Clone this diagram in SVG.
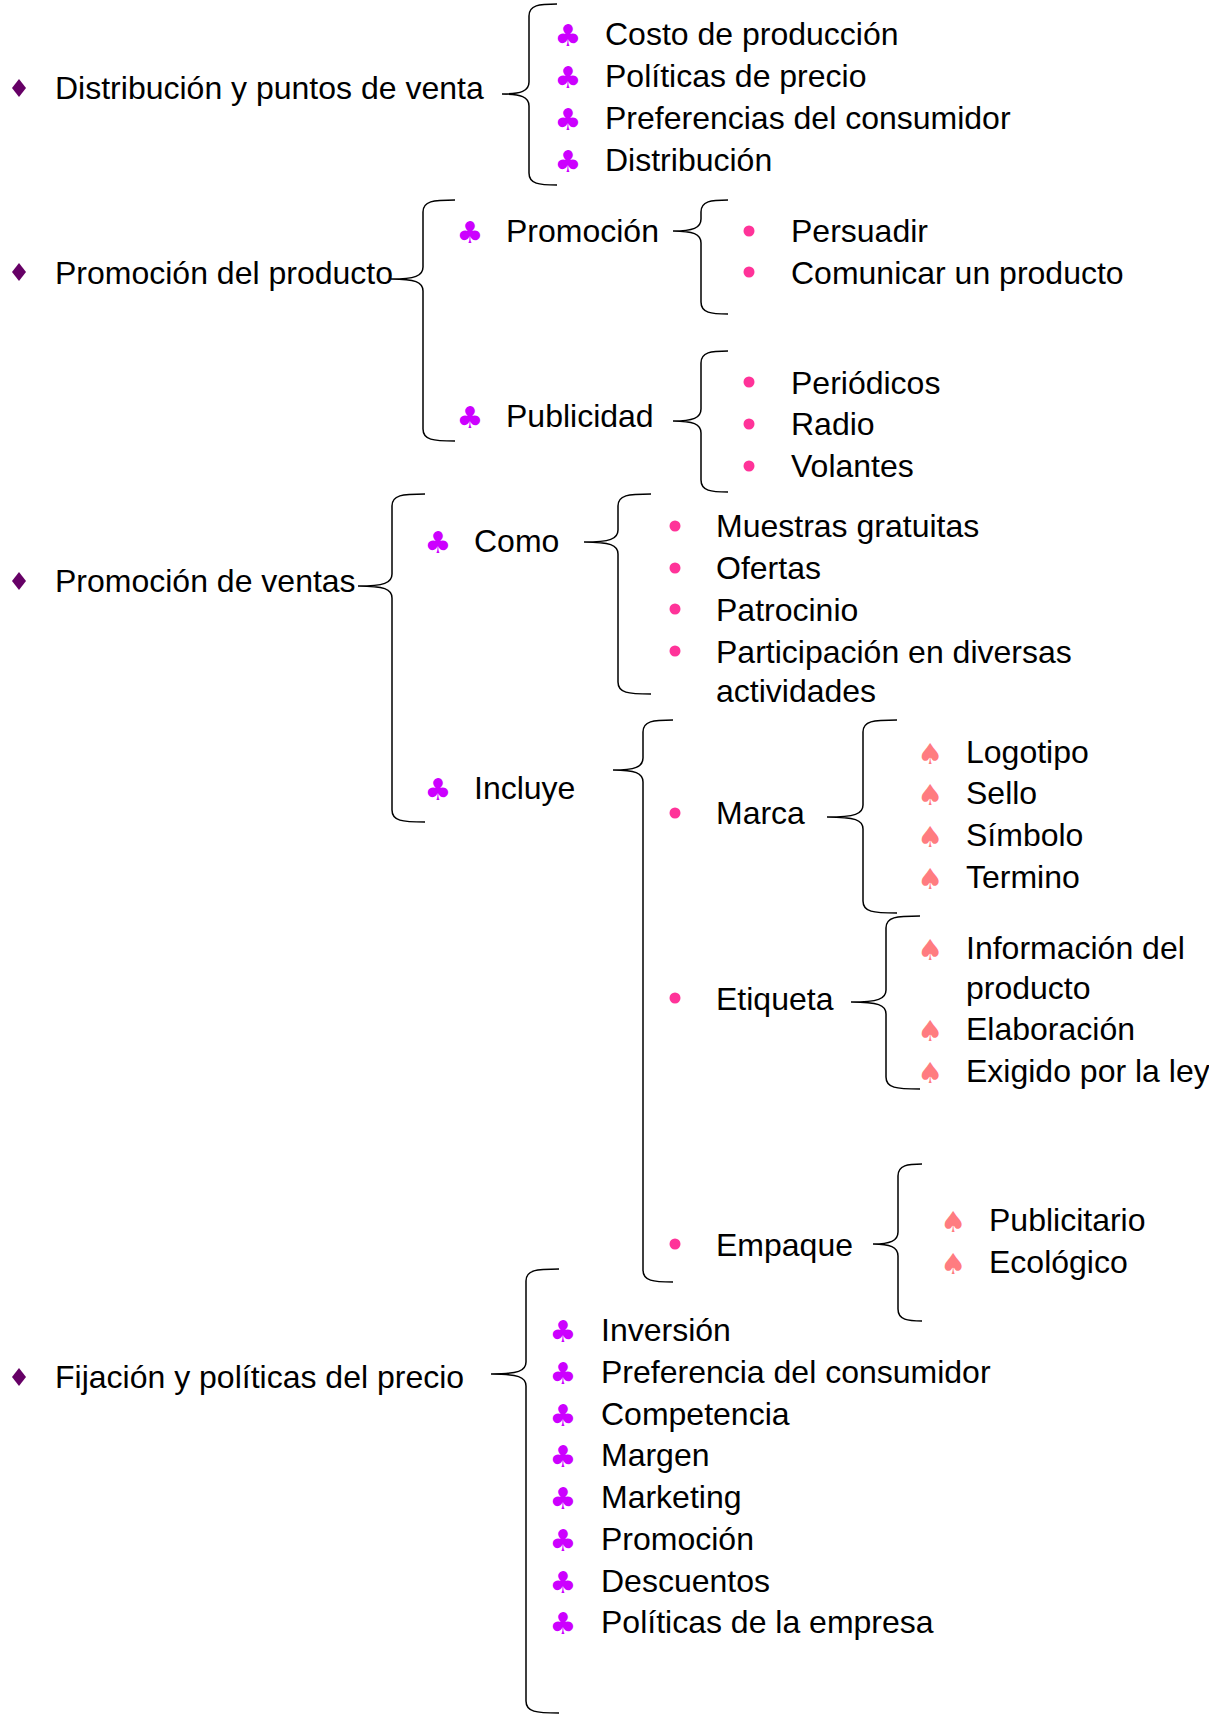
<svg xmlns="http://www.w3.org/2000/svg" width="1209" height="1722" viewBox="0 0 1209 1722">
<style>
.t{font-family:"Liberation Sans",Arial,sans-serif;font-size:32px;fill:#000}
.c{font-family:"DejaVu Sans",sans-serif;font-size:30px;fill:#CC00FF;text-anchor:middle}
.s{font-family:"DejaVu Sans",sans-serif;font-size:29px;fill:#FF7C80;text-anchor:middle}
.d{fill:#660066}
.p{fill:#FF3399}
.br{fill:none;stroke:#000;stroke-width:1.5}
</style>
<rect width="1209" height="1722" fill="#fff"/>
<g id="connectors">
<path class="br" d="M557,4 C539,4 529,5 529,16 L529,82 C529,91 521,94 502,94 M502,94 C521,94 529,97 529,106 L529,173 C529,184 539,185 557,185"/>
<path class="br" d="M455,200 C433,200 423,201 423,212 L423,267 C423,276 415,279 391,279 M391,279 C415,279 423,282 423,291 L423,429 C423,440 433,441 455,441"/>
<path class="br" d="M728,200 C711,200 701,201 701,212 L701,219 C701,228 693,231 673,231 M673,231 C693,231 701,234 701,243 L701,302 C701,313 711,314 728,314"/>
<path class="br" d="M728,351 C711,351 701,352 701,363 L701,409 C701,418 693,421 673,421 M673,421 C693,421 701,424 701,433 L701,480 C701,491 711,492 728,492"/>
<path class="br" d="M425,494 C402,494 392,495 392,506 L392,574 C392,583 384,586 358,586 M358,586 C384,586 392,589 392,598 L392,810 C392,821 402,822 425,822"/>
<path class="br" d="M651,494 C628,494 618,495 618,506 L618,530 C618,539 610,542 584,542 M584,542 C610,542 618,545 618,554 L618,682 C618,693 628,694 651,694"/>
<path class="br" d="M673,720 C653,720 643,721 643,732 L643,758 C643,767 635,770 613,770 M613,770 C635,770 643,773 643,782 L643,1270 C643,1281 653,1282 673,1282"/>
<path class="br" d="M897,720 C873,720 863,721 863,732 L863,805 C863,814 855,817 827,817 M827,817 C855,817 863,820 863,829 L863,901 C863,912 873,913 897,913"/>
<path class="br" d="M920,916 C896,916 886,917 886,928 L886,990 C886,999 878,1002 851,1002 M851,1002 C878,1002 886,1005 886,1014 L886,1077 C886,1088 896,1089 920,1089"/>
<path class="br" d="M922,1164 C908,1164 898,1165 898,1176 L898,1232 C898,1241 890,1244 873,1244 M873,1244 C890,1244 898,1247 898,1256 L898,1309 C898,1320 908,1321 922,1321"/>
<path class="br" d="M559,1269 C536,1269 526,1270 526,1281 L526,1362 C526,1371 518,1374 491,1374 M491,1374 C518,1374 526,1377 526,1386 L526,1701 C526,1712 536,1713 559,1713"/>
</g>

<g id="distribucion">
<polygon class="d" points="19,79 26,88 19,97 12,88"/>
<text class="t" x="55" y="99">Distribución y puntos de venta</text>
</g>
<g id="distribucion-items">
<text class="c" x="568" y="46">♣</text><text class="t" x="605" y="45">Costo de producción</text>
<text class="c" x="568" y="88">♣</text><text class="t" x="605" y="87">Políticas de precio</text>
<text class="c" x="568" y="130">♣</text><text class="t" x="605" y="129">Preferencias del consumidor</text>
<text class="c" x="568" y="172">♣</text><text class="t" x="605" y="171">Distribución</text>
</g>

<g id="promocion-producto">
<polygon class="d" points="19,263 26,272 19,281 12,272"/>
<text class="t" x="55" y="284">Promoción del producto</text>
</g>
<g id="promocion">
<text class="c" x="470" y="243">♣</text><text class="t" x="506" y="242">Promoción</text>
</g>
<g id="promocion-items">
<circle class="p" cx="749" cy="231" r="5.5"/><text class="t" x="791" y="242">Persuadir</text>
<circle class="p" cx="749" cy="272" r="5.5"/><text class="t" x="791" y="284">Comunicar un producto</text>
</g>
<g id="publicidad">
<text class="c" x="470" y="428">♣</text><text class="t" x="506" y="427">Publicidad</text>
</g>
<g id="publicidad-items">
<circle class="p" cx="749" cy="382" r="5.5"/><text class="t" x="791" y="394">Periódicos</text>
<circle class="p" cx="749" cy="424" r="5.5"/><text class="t" x="791" y="435">Radio</text>
<circle class="p" cx="749" cy="466" r="5.5"/><text class="t" x="791" y="477">Volantes</text>
</g>

<g id="promocion-ventas">
<polygon class="d" points="19,572 26,581 19,590 12,581"/>
<text class="t" x="55" y="592">Promoción de ventas</text>
</g>
<g id="como">
<text class="c" x="438" y="553">♣</text><text class="t" x="474" y="552">Como</text>
</g>
<g id="como-items">
<circle class="p" cx="675" cy="526" r="5.5"/><text class="t" x="716" y="537">Muestras gratuitas</text>
<circle class="p" cx="675" cy="568" r="5.5"/><text class="t" x="716" y="579">Ofertas</text>
<circle class="p" cx="675" cy="609" r="5.5"/><text class="t" x="716" y="621">Patrocinio</text>
<circle class="p" cx="675" cy="651" r="5.5"/><text class="t" x="716" y="663">Participación en diversas</text>
<text class="t" x="716" y="702">actividades</text>
</g>
<g id="incluye">
<text class="c" x="438" y="800">♣</text><text class="t" x="474" y="799">Incluye</text>
</g>
<g id="marca">
<circle class="p" cx="675" cy="813" r="5.5"/><text class="t" x="716" y="824">Marca</text>
</g>
<g id="marca-items">
<text class="s" x="930" y="764">♠</text><text class="t" x="966" y="763">Logotipo</text>
<text class="s" x="930" y="805">♠</text><text class="t" x="966" y="804">Sello</text>
<text class="s" x="930" y="847">♠</text><text class="t" x="966" y="846">Símbolo</text>
<text class="s" x="930" y="889">♠</text><text class="t" x="966" y="888">Termino</text>
</g>
<g id="etiqueta">
<circle class="p" cx="675" cy="998" r="5.5"/><text class="t" x="716" y="1010">Etiqueta</text>
</g>
<g id="etiqueta-items">
<text class="s" x="930" y="960">♠</text><text class="t" x="966" y="959">Información del</text>
<text class="t" x="966" y="999">producto</text>
<text class="s" x="930" y="1041">♠</text><text class="t" x="966" y="1040">Elaboración</text>
<text class="s" x="930" y="1083">♠</text><text class="t" x="966" y="1082">Exigido por la ley</text>
</g>
<g id="empaque">
<circle class="p" cx="675" cy="1244" r="5.5"/><text class="t" x="716" y="1256">Empaque</text>
</g>
<g id="empaque-items">
<text class="s" x="953" y="1232">♠</text><text class="t" x="989" y="1231">Publicitario</text>
<text class="s" x="953" y="1274">♠</text><text class="t" x="989" y="1273">Ecológico</text>
</g>

<g id="fijacion">
<polygon class="d" points="19,1368 26,1377 19,1386 12,1377"/>
<text class="t" x="55" y="1388">Fijación y políticas del precio</text>
</g>
<g id="fijacion-items">
<text class="c" x="563" y="1342">♣</text><text class="t" x="601" y="1341">Inversión</text>
<text class="c" x="563" y="1384">♣</text><text class="t" x="601" y="1383">Preferencia del consumidor</text>
<text class="c" x="563" y="1426">♣</text><text class="t" x="601" y="1425">Competencia</text>
<text class="c" x="563" y="1467">♣</text><text class="t" x="601" y="1466">Margen</text>
<text class="c" x="563" y="1509">♣</text><text class="t" x="601" y="1508">Marketing</text>
<text class="c" x="563" y="1551">♣</text><text class="t" x="601" y="1550">Promoción</text>
<text class="c" x="563" y="1593">♣</text><text class="t" x="601" y="1592">Descuentos</text>
<text class="c" x="563" y="1634">♣</text><text class="t" x="601" y="1633">Políticas de la empresa</text>
</g>
</svg>
